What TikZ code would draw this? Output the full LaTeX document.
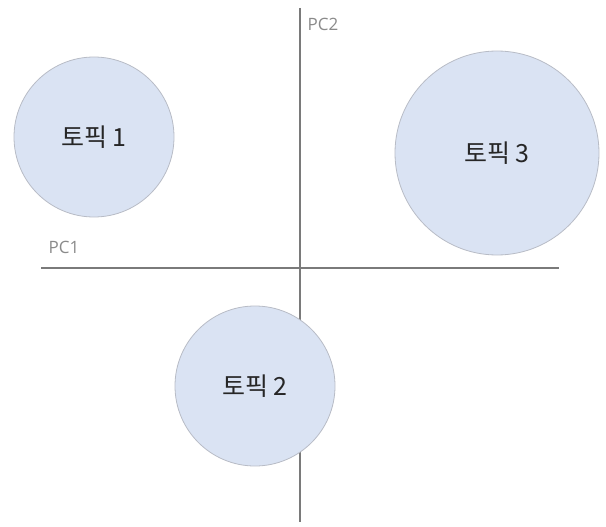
\documentclass[tikz,border=0pt]{standalone}
\usepackage{fontspec}
\newfontfamily\kr{Noto Sans CJK KR}
\newfontfamily\lab{Open Sans}
\definecolor{topicfill}{HTML}{DAE3F3}
\definecolor{topicline}{HTML}{B8BCC6}
\definecolor{axisline}{HTML}{7A7A7A}
\definecolor{labgray}{HTML}{8A8A8A}
\begin{document}
\begin{tikzpicture}[x=1pt,y=-1pt,
  topic/.style={circle,fill=topicfill,draw=topicline,line width=0.8pt,inner sep=0pt,font=\kr\fontsize{25}{28}\selectfont,text=black!85},
  axis/.style={draw=axisline,line width=1.3pt},
  axlabel/.style={font=\lab\fontsize{17}{19}\selectfont,text=labgray,inner sep=0pt}]
\useasboundingbox (0,0) rectangle (606,527);
\coordinate (ytop) at (300,8);
\coordinate (ybot) at (300,522);
\coordinate (xl) at (41,268);
\coordinate (xr) at (559,268);
\draw[axis] (xl) -- (xr);
\draw[axis] (ytop) -- (ybot);
\node[axlabel] (pc2) at (323,24) {PC2};
\node[axlabel] (pc1) at (64,247) {PC1};
\node[topic,minimum size=160pt] (t1) at (94,137) {토픽 1};
\node[topic,minimum size=204pt] (t3) at (497,153) {토픽 3};
\node[topic,minimum size=160pt] (t2) at (255,386) {토픽 2};
\end{tikzpicture}
\end{document}
